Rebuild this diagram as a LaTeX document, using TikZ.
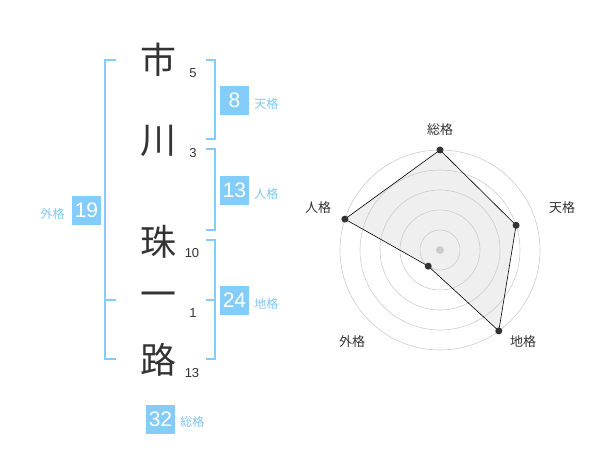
\documentclass[tikz,border=0pt]{standalone}
\usepackage{fontspec}
\setmainfont{Liberation Sans}
\newfontfamily\jpfont{Noto Sans CJK JP}
\usetikzlibrary{positioning}
\definecolor{kakublue}{HTML}{84CCFA}
\definecolor{kakutext}{HTML}{7FC6F2}
\definecolor{inkgray}{HTML}{333333}
\definecolor{ringgray}{HTML}{CCCCCC}
\definecolor{radarfill}{HTML}{EFEFEF}

\begin{document}
\begin{tikzpicture}[x=1pt, y=-1pt,
    kanji/.style={font=\jpfont\fontsize{36}{36}\selectfont, text=inkgray, inner sep=0pt},
    strokes/.style={font=\fontsize{13}{13}\selectfont, text=inkgray, inner sep=0pt},
    kakubox/.style={fill=kakublue, text=white, minimum size=29pt, inner sep=0pt, font=\fontsize{21}{21}\selectfont},
    kakulabel/.style={font=\jpfont\fontsize{12}{12}\selectfont, text=kakutext, inner sep=0pt},
    radarlabel/.style={font=\jpfont\fontsize{13}{13}\selectfont, text=inkgray, inner sep=0pt},
    bracket/.style={kakublue, line width=2pt}]

    \useasboundingbox (0,0) rectangle (600,470);

    % Name, one character per row
    \node[kanji] (ichi) at (158, 60) {市};
    \node[kanji] (kawa) at (158, 141) {川};
    \node[kanji] (tama) at (158, 242) {珠};
    \node[kanji] (hito) at (158, 300) {一};
    \node[kanji] (michi) at (158, 360) {路};

    % Stroke counts
    \node[strokes] (sIchi) at (193, 73) {5};
    \node[strokes] (sKawa) at (193, 153) {3};
    \node[strokes] (sTama) at (192, 253) {10};
    \node[strokes] (sHito) at (193, 313) {1};
    \node[strokes] (sMichi) at (192, 373) {13};

    % Brackets
    \draw[bracket] (116,60) -- (105,60) -- (105,359) -- (116,359);
    \draw[bracket] (105,300) -- (116,300);
    \draw[bracket] (206,60) -- (215,60) -- (215,139) -- (206,139);
    \draw[bracket] (206,149) -- (215,149) -- (215,230) -- (206,230);
    \draw[bracket] (206,240) -- (215,240) -- (215,359) -- (206,359);
    \draw[bracket] (206,300) -- (215,300);

    % Boxes with totals
    \node[kakubox] (ten) at (234.5, 100.5) {8};
    \node[kakubox] (jin) at (234.5, 190.5) {13};
    \node[kakubox] (chi) at (234.5, 300.5) {24};
    \node[kakubox] (gai) at (86.5, 210.5) {19};
    \node[kakubox] (sou) at (160.5, 419) {32};

    \node[kakulabel, right=5pt of ten, yshift=-3pt] (tenL) {天格};
    \node[kakulabel, right=5pt of jin, yshift=-3pt] (jinL) {人格};
    \node[kakulabel, right=5pt of chi, yshift=-3pt] (chiL) {地格};
    \node[kakulabel, left=7pt of gai, yshift=-3pt] (gaiL) {外格};
    \node[kakulabel, right=5pt of sou, yshift=-3pt] (souL) {総格};

    % Radar chart
    \begin{scope}[shift={(440,250)}, yscale=-1]
        \coordinate (pSou) at (90:100);
        \coordinate (pTen) at (18:80);
        \coordinate (pChi) at (-54:100);
        \coordinate (pGai) at (-126:20);
        \coordinate (pJin) at (162:100);

        \fill[radarfill] (pSou) -- (pTen) -- (pChi) -- (pGai) -- (pJin) -- cycle;
        \foreach \r in {20,40,60,80,100} {
            \draw[ringgray, line width=0.6pt] (0,0) circle[radius=\r pt];
        }
        \fill[ringgray] (0,0) circle[radius=4pt];

        \draw[black, line width=0.6pt]
            (pSou) -- (pTen) -- (pChi) -- (pGai) -- (pJin) -- cycle;
        \foreach \p in {pSou,pTen,pChi,pGai,pJin} {
            \fill[inkgray] (\p) circle[radius=3.5pt];
        }
    \end{scope}

    \node[radarlabel] (rSou) at (440, 130) {総格};
    \node[radarlabel] (rTen) at (562, 208) {天格};
    \node[radarlabel] (rChi) at (523, 342) {地格};
    \node[radarlabel] (rGai) at (352, 342) {外格};
    \node[radarlabel] (rJin) at (318, 208) {人格};

\end{tikzpicture}
\end{document}
